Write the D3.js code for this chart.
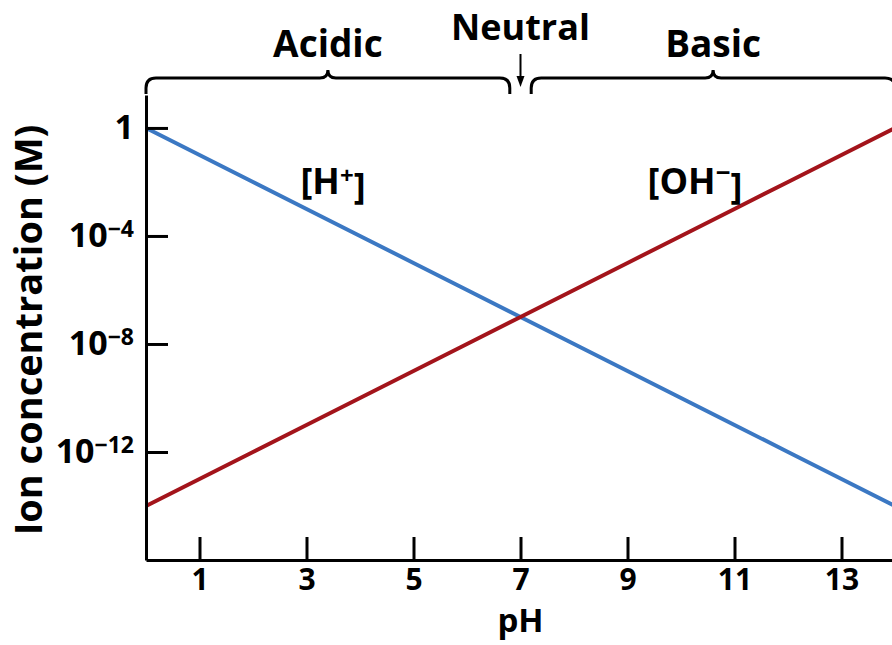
<!DOCTYPE html>
<html>
<head>
<meta charset="utf-8">
<script src="https://cdn.jsdelivr.net/npm/d3@7"></script>
<style>
  body { margin: 0; background: #fff; }
  text { font-family: "Open Sans", "DejaVu Sans", sans-serif; font-weight: 700; fill: #000; }
</style>
</head>
<body>
<div id="chart"></div>
<script>
// data
var phValues = [0, 1, 2, 3, 4, 5, 6, 7, 8, 9, 10, 11, 12, 13, 14];
var hConc = [1, 1e-1, 1e-2, 1e-3, 1e-4, 1e-5, 1e-6, 1e-7, 1e-8, 1e-9, 1e-10, 1e-11, 1e-12, 1e-13, 1e-14];
var ohConc = [1e-14, 1e-13, 1e-12, 1e-11, 1e-10, 1e-9, 1e-8, 1e-7, 1e-6, 1e-5, 1e-4, 1e-3, 1e-2, 1e-1, 1];
var xTicks = [1, 3, 5, 7, 9, 11, 13];
var yTicks = [1, 1e-4, 1e-8, 1e-12];
var yTickExp = ["", "\u22124", "\u22128", "\u221212"];
var regions = [
    {label: "Acidic", from: 0, to: 6.8},
    {label: "Basic", from: 7.2, to: 14}
];

var w = 892, h = 645;

var svg = d3.select("#chart")
    .append("svg")
    .attr("width", w)
    .attr("height", h);

var x = d3.scaleLinear()
    .domain([0, 14])
    .range([146, 895]);

var y = d3.scaleLog()
    .domain([1e-16, Math.pow(10, 1.22)])
    .range([560, 95]);

var line = d3.line()
    .x(function(d) { return x(d.ph); })
    .y(function(d) { return y(d.c); });

var hData = phValues.map(function(p, i) { return {ph: p, c: hConc[i]}; });
var ohData = phValues.map(function(p, i) { return {ph: p, c: ohConc[i]}; });

// lines
svg.append("path")
    .datum(hData)
    .attr("d", line)
    .attr("fill", "none")
    .attr("stroke", "#3b78c3")
    .attr("stroke-width", 4);

svg.append("path")
    .datum(ohData)
    .attr("d", line)
    .attr("fill", "none")
    .attr("stroke", "#a3141b")
    .attr("stroke-width", 4);

// X axis
var xAxis = svg.append("g")
    .attr("transform", "translate(0," + y.range()[0] + ")")
    .call(d3.axisBottom(x)
        .tickValues(xTicks)
        .tickSizeInner(-23)
        .tickSizeOuter(0)
        .tickPadding(9)
        .tickFormat(d3.format("d")));

xAxis.select(".domain").attr("stroke-width", 3).attr("stroke", "#000");
xAxis.selectAll(".tick line").attr("stroke-width", 3).attr("stroke", "#000");
xAxis.selectAll(".tick text").style("font-size", "30px").attr("fill", "#000");

// Y axis
var yAxis = svg.append("g")
    .attr("transform", "translate(" + x.range()[0] + ",0)")
    .call(d3.axisLeft(y)
        .tickValues(yTicks)
        .tickSizeInner(-22)
        .tickSizeOuter(0)
        .tickPadding(12)
        .tickFormat(function() { return ""; }));

yAxis.select(".domain").attr("stroke-width", 3).attr("stroke", "#000");
yAxis.selectAll(".tick line").attr("stroke-width", 3).attr("stroke", "#000");

yAxis.selectAll(".tick text")
    .style("font-size", "34px")
    .attr("fill", "#000")
    .each(function(d, i) {
        var t = d3.select(this);
        if (i === 0) {
            t.text("1");
        } else {
            t.append("tspan").text("10");
            t.append("tspan")
                .attr("dy", "-0.45em")
                .style("font-size", "23px")
                .text(yTickExp[i]);
        }
    });

// axis titles
svg.append("text")
    .attr("x", x(7))
    .attr("y", 632)
    .attr("text-anchor", "middle")
    .style("font-size", "33px")
    .text("pH");

svg.append("text")
    .attr("transform", "translate(42," + 330 + ") rotate(-90)")
    .attr("text-anchor", "middle")
    .style("font-size", "38px")
    .text("Ion concentration (M)");

// series labels
var hLabel = svg.append("text")
    .attr("x", 333)
    .attr("y", 194)
    .attr("text-anchor", "middle")
    .style("font-size", "36px");
hLabel.append("tspan").text("[H");
hLabel.append("tspan").attr("dy", "-0.4em").style("font-size", "24px").text("+");
hLabel.append("tspan").attr("dy", "0.4em").text("]");

var ohLabel = svg.append("text")
    .attr("x", 695)
    .attr("y", 194)
    .attr("text-anchor", "middle")
    .style("font-size", "36px");
ohLabel.append("tspan").text("[OH");
ohLabel.append("tspan").attr("dy", "-0.45em").style("font-size", "26px").text("\u2212");
ohLabel.append("tspan").attr("dy", "0.45em").text("]");

// braces
var braceY = 78, r = 10;
function bracePath(x0, x1) {
    var mid = (x0 + x1) / 2;
    return "M" + x0 + "," + (braceY + 16) +
        " L" + x0 + "," + (braceY + r) +
        " Q" + x0 + "," + braceY + " " + (x0 + r) + "," + braceY +
        " L" + (mid - 8) + "," + braceY +
        " Q" + mid + "," + braceY + " " + mid + "," + (braceY - 8) +
        " Q" + mid + "," + braceY + " " + (mid + 8) + "," + braceY +
        " L" + (x1 - r) + "," + braceY +
        " Q" + x1 + "," + braceY + " " + x1 + "," + (braceY + r) +
        " L" + x1 + "," + (braceY + 16);
}

regions.forEach(function(d) {
    svg.append("path")
        .attr("d", bracePath(x(d.from), x(d.to)))
        .attr("fill", "none")
        .attr("stroke", "#000")
        .attr("stroke-width", 3);
    svg.append("text")
        .attr("x", (x(d.from) + x(d.to)) / 2)
        .attr("y", 57)
        .attr("text-anchor", "middle")
        .style("font-size", "37px")
        .text(d.label);
});

// neutral arrow
svg.append("text")
    .attr("x", x(7))
    .attr("y", 40)
    .attr("text-anchor", "middle")
    .style("font-size", "36px")
    .text("Neutral");

svg.append("line")
    .attr("x1", x(7)).attr("x2", x(7))
    .attr("y1", 54).attr("y2", 80)
    .attr("stroke", "#000")
    .attr("stroke-width", 2);

svg.append("path")
    .attr("d", "M" + (x(7) - 4) + ",76 L" + (x(7) + 4) + ",76 L" + x(7) + ",87 Z")
    .attr("fill", "#000");
</script>
</body>
</html>
